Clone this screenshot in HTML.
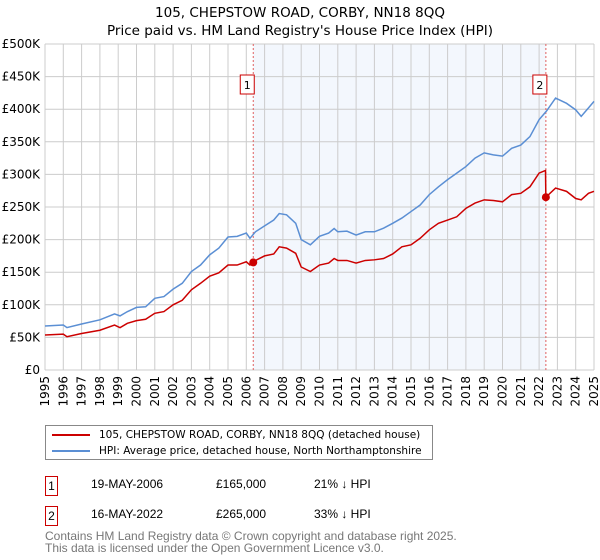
<!DOCTYPE html>
<html><head><meta charset="utf-8"><style>
body{margin:0;background:#fff;font-family:"Liberation Sans","DejaVu Sans",sans-serif;}
#wrap{position:relative;width:600px;height:560px;overflow:hidden;}
.t{position:absolute;font-size:12px;color:#000;}
svg text{font-family:"DejaVu Sans","Liberation Sans",sans-serif;}
</style></head><body>
<div id="wrap">
<svg id="chart" width="600" height="420" style="position:absolute;left:0;top:0"></svg>
<div style="position:absolute;left:45px;top:425px;width:388px;height:35px;border:1px solid #888;box-sizing:border-box;font-size:10.5px;font-family:'DejaVu Sans',sans-serif;">
 <div style="position:absolute;left:6px;top:3px;white-space:nowrap"><span style="display:inline-block;width:38px;height:2px;background:#cc0000;vertical-align:middle;margin-right:9px"></span>105, CHEPSTOW ROAD, CORBY, NN18 8QQ (detached house)</div>
 <div style="position:absolute;left:6px;top:19px;white-space:nowrap"><span style="display:inline-block;width:38px;height:2px;background:#5b8fd4;vertical-align:middle;margin-right:9px"></span>HPI: Average price, detached house, North Northamptonshire</div>
</div>
<div>
 <div class="t" style="left:45px;top:476px;width:11px;height:18px;border:1px solid #c00;text-align:center;line-height:18px">1</div>
 <div class="t" style="left:91px;top:477px">19-MAY-2006</div>
 <div class="t" style="left:216px;top:477px">£165,000</div>
 <div class="t" style="left:314px;top:477px">21% ↓ HPI</div>
</div>
<div>
 <div class="t" style="left:45px;top:506px;width:11px;height:18px;border:1px solid #c00;text-align:center;line-height:18px">2</div>
 <div class="t" style="left:91px;top:507px">16-MAY-2022</div>
 <div class="t" style="left:216px;top:507px">£265,000</div>
 <div class="t" style="left:314px;top:507px">33% ↓ HPI</div>
</div>
<div class="t" style="left:45px;top:531px;color:#777;font-size:12px;line-height:11.5px">Contains HM Land Registry data © Crown copyright and database right 2025.<br>This data is licensed under the Open Government Licence v3.0.</div>
</div>
<script>
const hpiDates=[1995,1996,1996.2,1997,1998,1998.8,1999.1,1999.5,2000,2000.5,2001,2001.5,2002,2002.5,2003,2003.5,2004,2004.5,2005,2005.5,2006,2006.2,2006.5,2007,2007.5,2007.8,2008.2,2008.7,2009,2009.5,2010,2010.5,2010.8,2011,2011.5,2012,2012.5,2013,2013.5,2014,2014.5,2015,2015.5,2016,2016.5,2017,2017.5,2018,2018.5,2019,2019.5,2020,2020.5,2021,2021.5,2022,2022.4,2022.9,2023.5,2024,2024.3,2024.7,2025];
const hpiValues=[67.5,69,65,70.5,77,86,83,89.5,96,97,110,112.6,124,133,151,161,176.6,187,204,205,210,202,212,221,230,240,238,225,200,192,205,210,217,212,213,207,212,212,217.5,225,233,243,253,269,281,292,302,312,325,333,330,328,340,345,358,384,397,417,409,399,389,402,412];
const priceDates=[1995,1996,1996.2,1997,1998,1998.8,1999.1,1999.5,2000,2000.5,2001,2001.5,2002,2002.5,2003,2003.5,2004,2004.5,2005,2005.5,2006,2006.2,2006.38,2006.5,2007,2007.5,2007.8,2008.2,2008.7,2009,2009.5,2010,2010.5,2010.8,2011,2011.5,2012,2012.5,2013,2013.5,2014,2014.5,2015,2015.5,2016,2016.5,2017,2017.5,2018,2018.5,2019,2019.5,2020,2020.5,2021,2021.5,2022,2022.35,2022.37,2022.9,2023.5,2024,2024.3,2024.7,2025];
const priceValues=[53.7,55,51,56,61,69,65,71.6,75.7,77.8,87,89.6,100,107,123,133,144,149,161,161,166,161,165,168,175,178,189,187,179,158,151,161,164,171,168,168,164,168,169,171,178,189,192,202,215,225,230,235,248,256,261,260,258,269,271,281,302,306,265,279,274,263,261,271,274];
const saleDates=[2006.38,2022.37];
const salePrices=[165,265];
const saleLabels=["1","2"];
const yTicks=[0,50,100,150,200,250,300,350,400,450,500];
const yTickLabels=["£0","£50K","£100K","£150K","£200K","£250K","£300K","£350K","£400K","£450K","£500K"];
const xTicks=[1995,1996,1997,1998,1999,2000,2001,2002,2003,2004,2005,2006,2007,2008,2009,2010,2011,2012,2013,2014,2015,2016,2017,2018,2019,2020,2021,2022,2023,2024,2025];

const L=45,R=594,T=44,B=370;
const x=d=>L+(d-1995)/30*(R-L);
const y=v=>B-v/500*(B-T);
const svg=document.getElementById('chart');
const NS='http://www.w3.org/2000/svg';
function mk(tag,attrs){const e=document.createElementNS(NS,tag);for(const k in attrs)e.setAttribute(k,attrs[k]);svg.appendChild(e);return e;}

let e=mk('text',{x:300,y:17,'text-anchor':'middle','font-size':13.5});e.textContent='105, CHEPSTOW ROAD, CORBY, NN18 8QQ';


e=mk('text',{x:300,y:35,'text-anchor':'middle','font-size':13.5});e.textContent="Price paid vs. HM Land Registry's House Price Index (HPI)";



e=mk('rect',{x:x(saleDates[0]),y:T,width:x(saleDates[1])-x(saleDates[0]),height:B-T,fill:'#eef3fc',opacity:0.7});



yTicks.forEach((v,i)=>{
 const g=mk('line',{x1:L,x2:R,y1:y(v),y2:y(v),stroke:'#ccc','stroke-width':1});
 
 
 const t=mk('text',{x:40,y:y(v)+4,'text-anchor':'end','font-size':12});t.textContent=yTickLabels[i];
 
 
});
xTicks.forEach(d=>{
 const g=mk('line',{x1:x(d),x2:x(d),y1:T,y2:B,stroke:'#ccc','stroke-width':1});
 
 
 const t=mk('text',{x:0,y:0,'text-anchor':'end','font-size':12,transform:`translate(${x(d)+4},${B+6}) rotate(-90)`});t.textContent=d;
 
 
});

saleDates.forEach((d,i)=>{
 const l=mk('line',{x1:x(d),x2:x(d),y1:T,y2:B,stroke:'#e06060','stroke-width':1,'stroke-dasharray':'2,2'});
 
 
 const r=mk('rect',{x:x(d)-13,y:T+31,width:14,height:19,fill:'#fff',stroke:'#c00'});
 
 
 const t=mk('text',{x:x(d)-6,y:T+45,'text-anchor':'middle','font-size':11});t.textContent=saleLabels[i];
 
 
});

let p=mk('polyline',{points:hpiDates.map((d,i)=>x(d)+','+y(hpiValues[i])).join(' '),fill:'none',stroke:'#5b8fd4','stroke-width':1.5});


p=mk('polyline',{points:priceDates.map((d,i)=>x(d)+','+y(priceValues[i])).join(' '),fill:'none',stroke:'#cc0000','stroke-width':1.5});


saleDates.forEach((d,i)=>{
 const c=mk('circle',{cx:x(d),cy:y(salePrices[i]),r:4,fill:'#cc0000'});
 
 
});
</script>
</body></html>
